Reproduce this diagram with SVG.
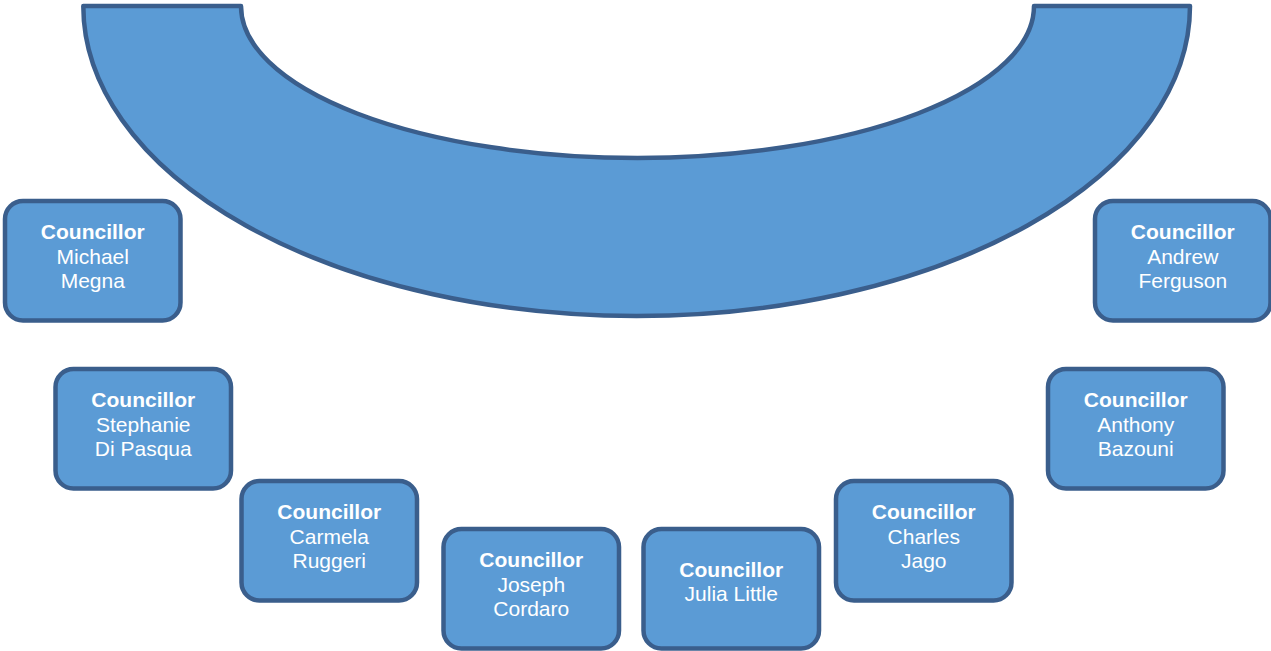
<svg xmlns="http://www.w3.org/2000/svg" width="1271" height="651" viewBox="0 0 1271 651">
<style>
.shape{fill:#5b9bd5;stroke:#3a5e8c;stroke-width:4.5;stroke-linejoin:round}
.t{font-family:"Liberation Sans",Arial,sans-serif;font-size:21px;fill:#ffffff;text-anchor:middle}
.b{font-weight:bold}
</style>
<rect width="1271" height="651" fill="#ffffff"/>
<g id="table">
<path class="shape" d="M83.3,6 L241,6 A396.5,152 0 0 0 1034,6 L1190,6 A553.3,310 0 0 1 83.3,6 Z"/>
</g>
<g id="connectors"></g>
<g id="megna">
<rect class="shape" x="5" y="201" width="175.5" height="119.5" rx="18"/>
<text class="t"><tspan class="b" x="92.75" y="239">Councillor</tspan><tspan x="92.75" y="263.5">Michael</tspan><tspan x="92.75" y="288">Megna</tspan></text>
</g>
<g id="ferguson">
<rect class="shape" x="1095" y="201" width="175.5" height="119.5" rx="18"/>
<text class="t"><tspan class="b" x="1182.75" y="239">Councillor</tspan><tspan x="1182.75" y="263.5">Andrew</tspan><tspan x="1182.75" y="288">Ferguson</tspan></text>
</g>
<g id="dipasqua">
<rect class="shape" x="55.5" y="369" width="175.5" height="119.5" rx="18"/>
<text class="t"><tspan class="b" x="143.25" y="407">Councillor</tspan><tspan x="143.25" y="431.5">Stephanie</tspan><tspan x="143.25" y="456">Di Pasqua</tspan></text>
</g>
<g id="bazouni">
<rect class="shape" x="1048" y="369" width="175.5" height="119.5" rx="18"/>
<text class="t"><tspan class="b" x="1135.75" y="407">Councillor</tspan><tspan x="1135.75" y="431.5">Anthony</tspan><tspan x="1135.75" y="456">Bazouni</tspan></text>
</g>
<g id="ruggeri">
<rect class="shape" x="241.5" y="481" width="175.5" height="119.5" rx="18"/>
<text class="t"><tspan class="b" x="329.25" y="519">Councillor</tspan><tspan x="329.25" y="543.5">Carmela</tspan><tspan x="329.25" y="568">Ruggeri</tspan></text>
</g>
<g id="jago">
<rect class="shape" x="836" y="481" width="175.5" height="119.5" rx="18"/>
<text class="t"><tspan class="b" x="923.75" y="519">Councillor</tspan><tspan x="923.75" y="543.5">Charles</tspan><tspan x="923.75" y="568">Jago</tspan></text>
</g>
<g id="cordaro">
<rect class="shape" x="443.5" y="529" width="175.5" height="119.5" rx="18"/>
<text class="t"><tspan class="b" x="531.25" y="567">Councillor</tspan><tspan x="531.25" y="591.5">Joseph</tspan><tspan x="531.25" y="616">Cordaro</tspan></text>
</g>
<g id="little">
<rect class="shape" x="643.5" y="529" width="175.5" height="119.5" rx="18"/>
<text class="t"><tspan class="b" x="731.25" y="577">Councillor</tspan><tspan x="731.25" y="601">Julia Little</tspan></text>
</g>
</svg>
